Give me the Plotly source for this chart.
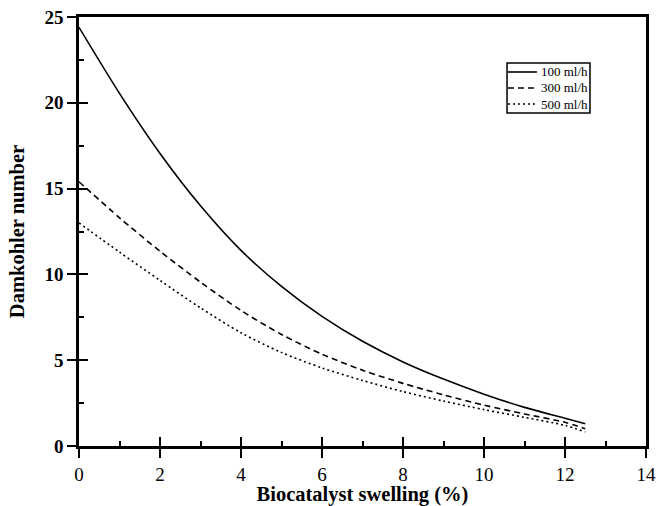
import plotly.graph_objects as go

x_vals = [0, 1, 2, 3, 4, 5, 6, 7, 8, 9, 10, 11, 12, 12.5]
flow_100 = [24.4, 20.55, 17.05, 14.0, 11.4, 9.3, 7.55, 6.1, 4.9, 3.9, 3.02, 2.25, 1.62, 1.3]
flow_300 = [15.4, 13.3, 11.35, 9.55, 7.9, 6.5, 5.35, 4.42, 3.65, 2.98, 2.38, 1.87, 1.38, 1.0]
flow_500 = [13.0, 11.3, 9.65, 8.05, 6.6, 5.45, 4.55, 3.82, 3.17, 2.62, 2.12, 1.67, 1.2, 0.82]
series_names = ["100 ml/h", "300 ml/h", "500 ml/h"]
x_ticks = [0, 2, 4, 6, 8, 10, 12, 14]
y_ticks = [0, 5, 10, 15, 20, 25]

FONT = "Liberation Serif, Times New Roman, serif"
styles = ["solid", "6px,4px", "2px,3px"]

fig = go.Figure()
for name, ys, d in zip(series_names, [flow_100, flow_300, flow_500], styles):
    fig.add_trace(go.Scatter(x=x_vals, y=ys, mode="lines", name=name, showlegend=False,
                             line=dict(color="black", width=1.6, dash=d, shape="spline", smoothing=0.8),
                             hoverinfo="skip"))
# dummy trace to anchor the inside-tick overlay axes
fig.add_trace(go.Scatter(x=[None], y=[None], xaxis="x2", yaxis="y2",
                         showlegend=False, hoverinfo="skip"))

# boxed legend (upper right)
lx0, lx1, ly0, ly1 = 0.7549, 0.9012, 0.7762, 0.8928
fig.add_shape(type="rect", xref="paper", yref="paper", x0=lx0, x1=lx1, y0=ly0, y1=ly1,
              line=dict(color="black", width=1.5), fillcolor="white")
row_y = [0.8718, 0.8345, 0.7972]
for name, d, yy in zip(series_names, styles, row_y):
    fig.add_shape(type="line", xref="paper", yref="paper", x0=0.7566, x1=0.8077, y0=yy, y1=yy,
                  line=dict(color="black", width=1.6, dash=d))
    fig.add_annotation(xref="paper", yref="paper", x=0.8105, y=yy, text=name, showarrow=False,
                       xanchor="left", yanchor="middle",
                       font=dict(size=13, family=FONT, color="black"))

common = dict(showgrid=False, zeroline=False, linecolor="black", linewidth=2.5,
              tickcolor="black", tickwidth=2, automargin=False)
fig.update_layout(
    width=660, height=506,
    margin=dict(l=79, r=14, t=17, b=60),
    plot_bgcolor="white", paper_bgcolor="white",
    font=dict(family=FONT, color="black"),
    showlegend=False,
    xaxis=dict(range=[0, 14], tickvals=x_ticks, ticks="outside", ticklen=9,
               showline=True, mirror=True,
               tickfont=dict(size=19, family=FONT, color="black"),
               title=dict(text="<b>Biocatalyst swelling (%)</b>", font=dict(size=20.5, family=FONT, color="black"), standoff=13),
               **common),
    yaxis=dict(range=[0, 25], tickvals=y_ticks, ticktext=[f"<b>{v}</b>" for v in y_ticks],
               ticks="outside", ticklen=9,
               showline=True, mirror=True,
               tickfont=dict(size=19, family=FONT, color="black", weight="bold"),
               title=dict(text="<b>Damkohler number</b>", font=dict(size=20.5, family=FONT, color="black"), standoff=15),
               **common),
    xaxis2=dict(range=[0, 14], overlaying="x", anchor="y2", tickvals=x_ticks, ticks="inside",
                ticklen=9, showticklabels=False, showline=False, automargin=False,
                minor=dict(tickvals=[1, 3, 5, 7, 9, 11, 13], ticks="inside", ticklen=5,
                           tickcolor="black", tickwidth=2),
                showgrid=False, zeroline=False, tickcolor="black", tickwidth=2),
    yaxis2=dict(range=[0, 25], overlaying="y", anchor="x2", tickvals=y_ticks, ticks="inside",
                ticklen=9, showticklabels=False, showline=False, automargin=False,
                minor=dict(tickvals=[2.5, 7.5, 12.5, 17.5, 22.5], ticks="inside", ticklen=5,
                           tickcolor="black", tickwidth=2),
                showgrid=False, zeroline=False, tickcolor="black", tickwidth=2),
)

fig.write_html("out.html")
